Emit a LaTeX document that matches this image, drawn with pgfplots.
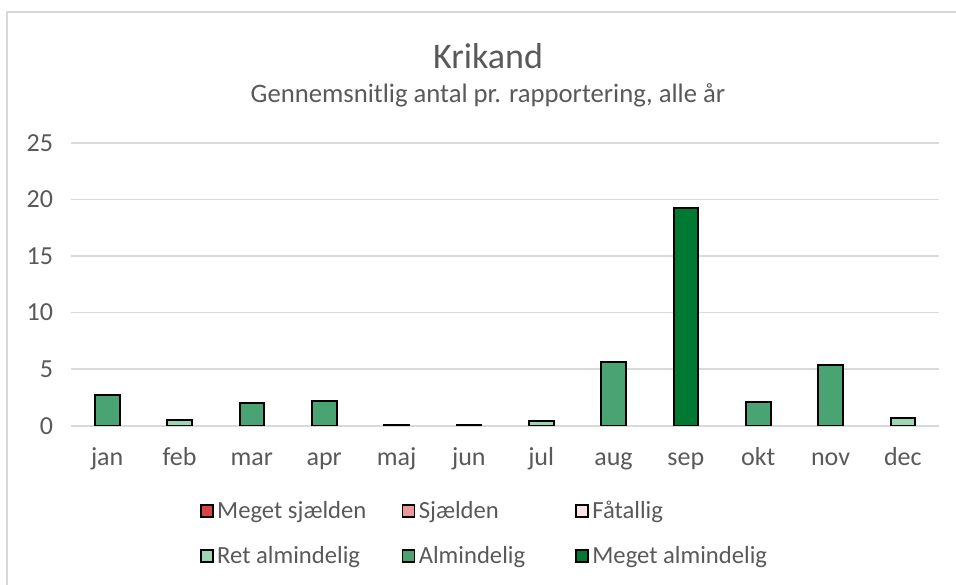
\documentclass[border=0pt]{standalone}
\usepackage{fontspec}
\setmainfont{Carlito}
\usepackage{pgfplots}
\pgfplotsset{compat=1.18}
\definecolor{txt}{HTML}{595959}
\definecolor{gridc}{HTML}{D9D9D9}
\definecolor{msj}{HTML}{D64541}
\definecolor{sj}{HTML}{E89A98}
\definecolor{fa}{HTML}{FCE4E4}
\definecolor{ra}{HTML}{9ED6B5}
\definecolor{al}{HTML}{4AA372}
\definecolor{ma}{HTML}{007A33}
\pgfplotsset{sqlegend/.style={legend image code/.code={\draw[##1, line width=1.2pt] (0pt,-4.5pt) rectangle (9pt,4.5pt);}}}
\begin{document}
\begin{tikzpicture}
\begin{scope}[x=0.75pt,y=-0.75pt]
\path[use as bounding box] (0,0) rectangle (956,585);
\draw[gridc, line width=1.5pt] (7,585) -- (7,12) -- (956,12);
\node[txt, font=\fontsize{27}{30}\selectfont] at (488,56) {Krikand};
\node[txt, font=\fontsize{20}{24}\selectfont] at (488,95) {Gennemsnitlig antal pr. rapportering, alle år};
\end{scope}
\begin{axis}[
  at={(53.25pt,-319.275pt)}, anchor=south west,
  scale only axis, width=651pt, height=212.25pt,
  xmin=-0.5, xmax=11.5, ymin=0, ymax=25,
  ytick={0,5,10,15,20,25},
  xtick={0,...,11},
  xticklabels={jan,feb,mar,apr,maj,jun,jul,aug,sep,okt,nov,dec},
  major tick length=0pt,
  axis lines*=left,
  y axis line style={draw=none},
  x axis line style={draw=gridc, line width=1.2pt, -},
  ymajorgrids, grid style={gridc, line width=1.2pt},
  /pgf/number format/assume math mode=true,
  ticklabel style={font=\fontsize{19.5}{23}\selectfont, text=txt},
  yticklabel style={xshift=-10pt},
  xticklabel style={yshift=-19pt, text height=0.7em, text depth=0.25em},
  legend columns=3,
  legend style={at={(0.144,-0.25)}, anchor=north west, draw=none, fill=none,
    font=\fontsize{18.5}{22}\selectfont, text=txt, row sep=16pt,
    nodes={inner ysep=1.5pt, inner xsep=2.5pt}},
  legend cell align=left,
]
\addlegendimage{sqlegend, fill=msj, draw=black}
\addlegendentry{\makebox[136pt][l]{Meget sjælden}}
\addlegendimage{sqlegend, fill=sj, draw=black}
\addlegendentry{\makebox[115pt][l]{Sjælden}}
\addlegendimage{sqlegend, fill=fa, draw=black}
\addlegendentry{\makebox[150pt][l]{Fåtallig}}
\addplot[ybar, bar width=18.5pt, bar shift=0pt, fill=ra, draw=black, line width=1.5pt, sqlegend] coordinates {(1,0.48) (4,0.1) (5,0.1) (6,0.45) (11,0.67)};
\addlegendentry{\makebox[136pt][l]{Ret almindelig}}
\addplot[ybar, bar width=18.5pt, bar shift=0pt, fill=al, draw=black, line width=1.5pt, sqlegend] coordinates {(0,2.74) (2,1.98) (3,2.2) (7,5.62) (9,2.07) (10,5.34)};
\addlegendentry{\makebox[115pt][l]{Almindelig}}
\addplot[ybar, bar width=18.5pt, bar shift=0pt, fill=ma, draw=black, line width=1.5pt, sqlegend] coordinates {(8,19.2)};
\addlegendentry{\makebox[150pt][l]{Meget almindelig}}
\end{axis}
\end{tikzpicture}
\end{document}
